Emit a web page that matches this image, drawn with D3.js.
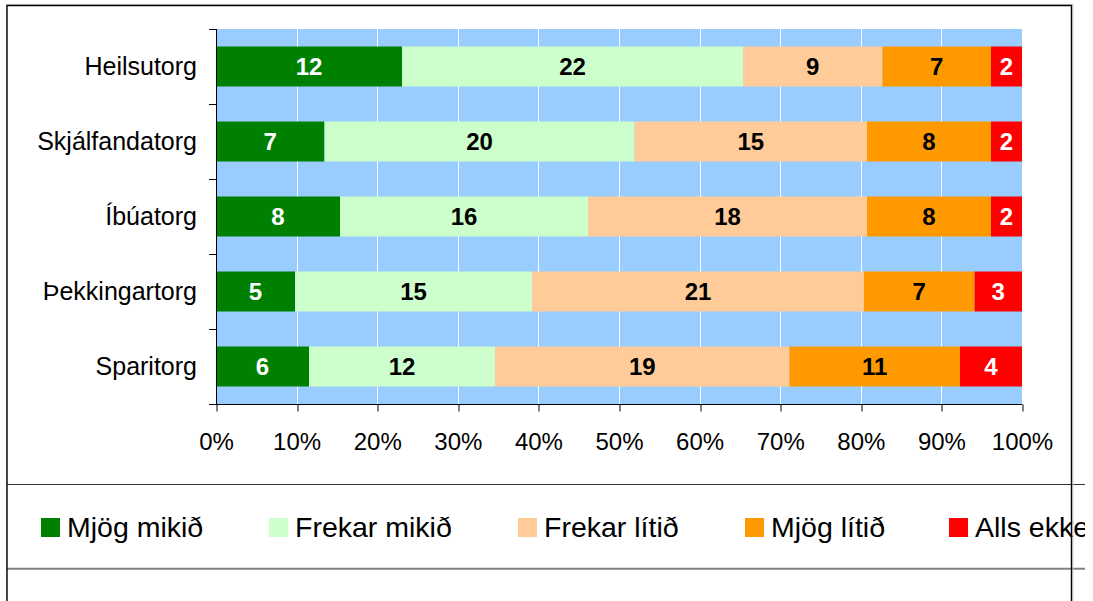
<!DOCTYPE html>
<html>
<head>
<meta charset="utf-8">
<script src="https://cdn.jsdelivr.net/npm/d3@7"></script>
<style>
  html, body { margin: 0; padding: 0; background: #fff; }
  svg { display: block; font-family: "Liberation Sans", Arial, sans-serif; }
</style>
</head>
<body>
<svg id="chart" width="1093" height="601"></svg>
<script>
const categories = ["Heilsutorg", "Skjálfandatorg", "Íbúatorg", "Þekkingartorg", "Sparitorg"];
const seriesNames = ["Mjög mikið", "Frekar mikið", "Frekar lítið", "Mjög lítið", "Alls ekkert"];
const mjogMikid   = [12, 7, 8, 5, 6];
const frekarMikid = [22, 20, 16, 15, 12];
const frekarLitid = [9, 15, 18, 21, 19];
const mjogLitid   = [7, 8, 8, 7, 11];
const allsEkkert  = [2, 2, 2, 3, 4];
const xTickValues = [0, 0.1, 0.2, 0.3, 0.4, 0.5, 0.6, 0.7, 0.8, 0.9, 1];
const seriesColors = ["#008000", "#CCFFCC", "#FFCC99", "#FF9900", "#FF0000"];
const labelColors  = ["#ffffff", "#000000", "#000000", "#000000", "#ffffff"];

const seriesValues = [mjogMikid, frekarMikid, frekarLitid, mjogLitid, allsEkkert];
const rows = categories.map((c, i) => {
  const r = { cat: c };
  seriesNames.forEach((s, j) => { r[s] = seriesValues[j][i]; });
  return r;
});

const svg = d3.select("#chart");
const font = '"Liberation Sans", Arial, sans-serif';

const plot = { left: 216, right: 1022, top: 29, bottom: 404 };

const x = d3.scaleLinear().domain([0, 1]).range([plot.left, plot.right]);
const y = d3.scaleBand().domain(categories).range([plot.top, plot.bottom])
  .paddingInner(35 / 75).paddingOuter(35 / 150);
const yOuter = d3.scaleBand().domain(categories).range([plot.top, plot.bottom]);

const stack = d3.stack().keys(seriesNames).offset(d3.stackOffsetExpand);
const stacked = stack(rows);

// plot background
svg.append("rect")
  .attr("x", plot.left).attr("y", plot.top)
  .attr("width", plot.right - plot.left).attr("height", plot.bottom - plot.top)
  .attr("fill", "#99CCFF");

// gridlines
svg.append("g").selectAll("line")
  .data(xTickValues.filter(d => d > 0))
  .join("line")
  .attr("x1", d => Math.round(x(d)) + 0.5).attr("x2", d => Math.round(x(d)) + 0.5)
  .attr("y1", plot.top).attr("y2", plot.bottom)
  .attr("stroke", "#ffffff").attr("stroke-width", 1);

// bars
const layers = svg.append("g").selectAll("g")
  .data(stacked)
  .join("g")
  .attr("fill", (d, i) => seriesColors[i]);

layers.selectAll("rect")
  .data(d => d.map(v => ({ v, cat: v.data.cat })))
  .join("rect")
  .attr("x", d => x(d.v[0]))
  .attr("width", d => x(d.v[1]) - x(d.v[0]))
  .attr("y", d => y(d.cat))
  .attr("height", y.bandwidth());

// value labels
stacked.forEach((layer, i) => {
  svg.append("g").selectAll("text")
    .data(layer)
    .join("text")
    .attr("x", d => (x(d[0]) + x(d[1])) / 2)
    .attr("y", d => y(d.data.cat) + y.bandwidth() / 2)
    .attr("dy", "0.35em")
    .attr("text-anchor", "middle")
    .attr("font-family", font)
    .attr("font-weight", "bold")
    .attr("font-size", 24)
    .attr("fill", labelColors[i])
    .text(d => d.data[seriesNames[i]]);
});

// left axis: labels
const yAxis = svg.append("g")
  .attr("transform", `translate(${plot.left},0)`)
  .call(d3.axisLeft(y).tickSize(0).tickPadding(19));
yAxis.select(".domain").remove();
yAxis.selectAll("text")
  .attr("font-family", font).attr("font-size", 25).attr("fill", "#000");

// left axis line and boundary ticks
const boundaries = categories.map(c => yOuter(c)).concat([plot.bottom]);
svg.append("line")
  .attr("x1", plot.left + 0.5).attr("x2", plot.left + 0.5)
  .attr("y1", plot.top).attr("y2", plot.bottom)
  .attr("stroke", "#000");
svg.append("g").selectAll("line")
  .data(boundaries)
  .join("line")
  .attr("x1", plot.left - 7).attr("x2", plot.left)
  .attr("y1", d => Math.round(d) + 0.5).attr("y2", d => Math.round(d) + 0.5)
  .attr("stroke", "#000");

// bottom axis
const xAxis = svg.append("g")
  .attr("transform", `translate(0,${plot.bottom + 0.5})`)
  .call(d3.axisBottom(x).tickValues(xTickValues).tickFormat(d3.format(".0%"))
    .tickSizeInner(7).tickSizeOuter(0).tickPadding(21));
xAxis.select(".domain").attr("stroke", "#000").attr("d", `M${plot.left - 7},0H${plot.right + 0.5}`);
xAxis.selectAll(".tick line").attr("stroke", "#000")
  .attr("transform", d => `translate(${Math.round(x(d)) + 0.5 - x(d)},0)`);
xAxis.selectAll("text")
  .attr("font-family", font).attr("font-size", 24).attr("fill", "#000");

// legend
svg.append("clipPath").attr("id", "legclip")
  .append("rect").attr("x", 0).attr("y", 470).attr("width", 1085).attr("height", 110);

const legend = svg.append("g").attr("clip-path", "url(#legclip)");
legend.append("line")
  .attr("x1", 7).attr("x2", 1085).attr("y1", 484.5).attr("y2", 484.5)
  .attr("stroke", "#333").attr("stroke-width", 1.2);
legend.append("line")
  .attr("x1", 7).attr("x2", 1085).attr("y1", 568.7).attr("y2", 568.7)
  .attr("stroke", "#808080").attr("stroke-width", 2);

const legendX = [41, 269, 518, 745, 949];
const items = legend.selectAll("g.item")
  .data(seriesNames)
  .join("g").attr("class", "item")
  .attr("transform", (d, i) => `translate(${legendX[i]},518)`);
items.append("rect")
  .attr("width", 19).attr("height", 19)
  .attr("fill", (d, i) => seriesColors[i]);
items.append("text")
  .attr("x", 26).attr("y", 19)
  .attr("font-family", font).attr("font-size", 28.5).attr("fill", "#000")
  .text(d => d);

// outer border
svg.append("path")
  .attr("d", "M6.5,601V4.5H1073V601")
  .attr("fill", "none").attr("stroke", "#d0d0d0").attr("stroke-width", 1);
svg.append("path")
  .attr("d", "M7,601V5.5H1071.5V601")
  .attr("fill", "none").attr("stroke", "#000").attr("stroke-width", 1.4);
</script>
</body>
</html>
